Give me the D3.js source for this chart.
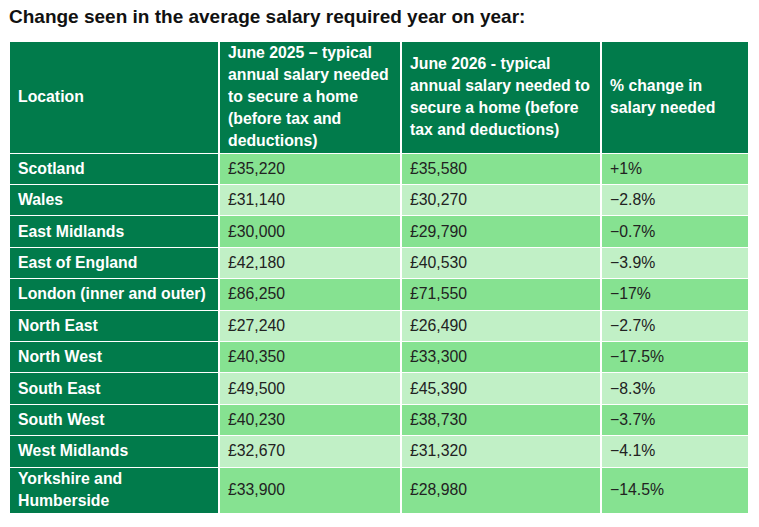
<!DOCTYPE html>
<html>
<head>
<meta charset="utf-8">
<script src="https://cdn.jsdelivr.net/npm/d3@7"></script>
<style>
    body { margin: 0; background: #fff; font-family: "Liberation Sans", Arial, sans-serif; }
    h3 {
        position: absolute; left: 9px; top: 6px; margin: 0;
        font-size: 19px; font-weight: bold; color: #111; line-height: 22px;
    }
    table {
        position: absolute; left: 8px; top: 40.6px;
        border-collapse: separate; border-spacing: 2px 1.45px;
        table-layout: fixed; width: 742px;
        font-size: 15.8px; line-height: 22px;
    }
    th, td { padding: 0.5px 8px; text-align: left; vertical-align: middle; box-sizing: border-box; }
    th { background: #017b4b; color: #fff; font-weight: bold; height: 110px; }
    td { height: 30.4px; color: #222; }
    td.loc { background: #017b4b; color: #fff; font-weight: bold; }
    tr.odd td { background: #86e291; }
    tr.even td { background: #c1f0c6; }
    tr td.loc { background: #017b4b; }
</style>
</head>
<body>
<h3 id="title"></h3>
<div id="frame"></div>
<script>
const TITLE = "Change seen in the average salary required year on year:";

const headers = [
    "Location",
    "June 2025 \u2013 typical annual salary needed to secure a home (before tax and deductions)",
    "June 2026 - typical annual salary needed to secure a home (before tax and deductions)",
    "% change in salary needed"
];

const colWidths = [208, 180, 198, 146];

const locations = ["Scotland", "Wales", "East Midlands", "East of England", "London (inner and outer)",
    "North East", "North West", "South East", "South West", "West Midlands", "Yorkshire and Humberside"];

const salary2025 = [35220, 31140, 30000, 42180, 86250, 27240, 40350, 49500, 40230, 32670, 33900];
const salary2026 = [35580, 30270, 29790, 40530, 71550, 26490, 33300, 45390, 38730, 31320, 28980];
const pctChange = [1, -2.8, -0.7, -3.9, -17, -2.7, -17.5, -8.3, -3.7, -4.1, -14.5];

var money = d3.format(",");
function fmtMoney(v) { return "\u00a3" + money(v); }
function fmtPct(v) { return (v > 0 ? "+" : "\u2212") + Math.abs(v) + "%"; }

d3.select("#title").text(TITLE);

var table = d3.select("#frame").append("table");

table.append("colgroup").selectAll("col")
    .data(colWidths)
    .enter().append("col")
    .style("width", function(d) { return d + "px"; });

table.append("thead").append("tr")
    .selectAll("th")
    .data(headers)
    .enter().append("th")
    .text(function(d) { return d; });

var rows = locations.map(function(loc, i) {
    return [loc, fmtMoney(salary2025[i]), fmtMoney(salary2026[i]), fmtPct(pctChange[i])];
});

table.append("tbody").selectAll("tr")
    .data(rows)
    .enter().append("tr")
    .attr("class", function(d, i) { return i % 2 == 0 ? "odd" : "even"; })
    .selectAll("td")
    .data(function(d) { return d; })
    .enter().append("td")
    .attr("class", function(d, i) { return i == 0 ? "loc" : null; })
    .text(function(d) { return d; });
</script>
</body>
</html>
